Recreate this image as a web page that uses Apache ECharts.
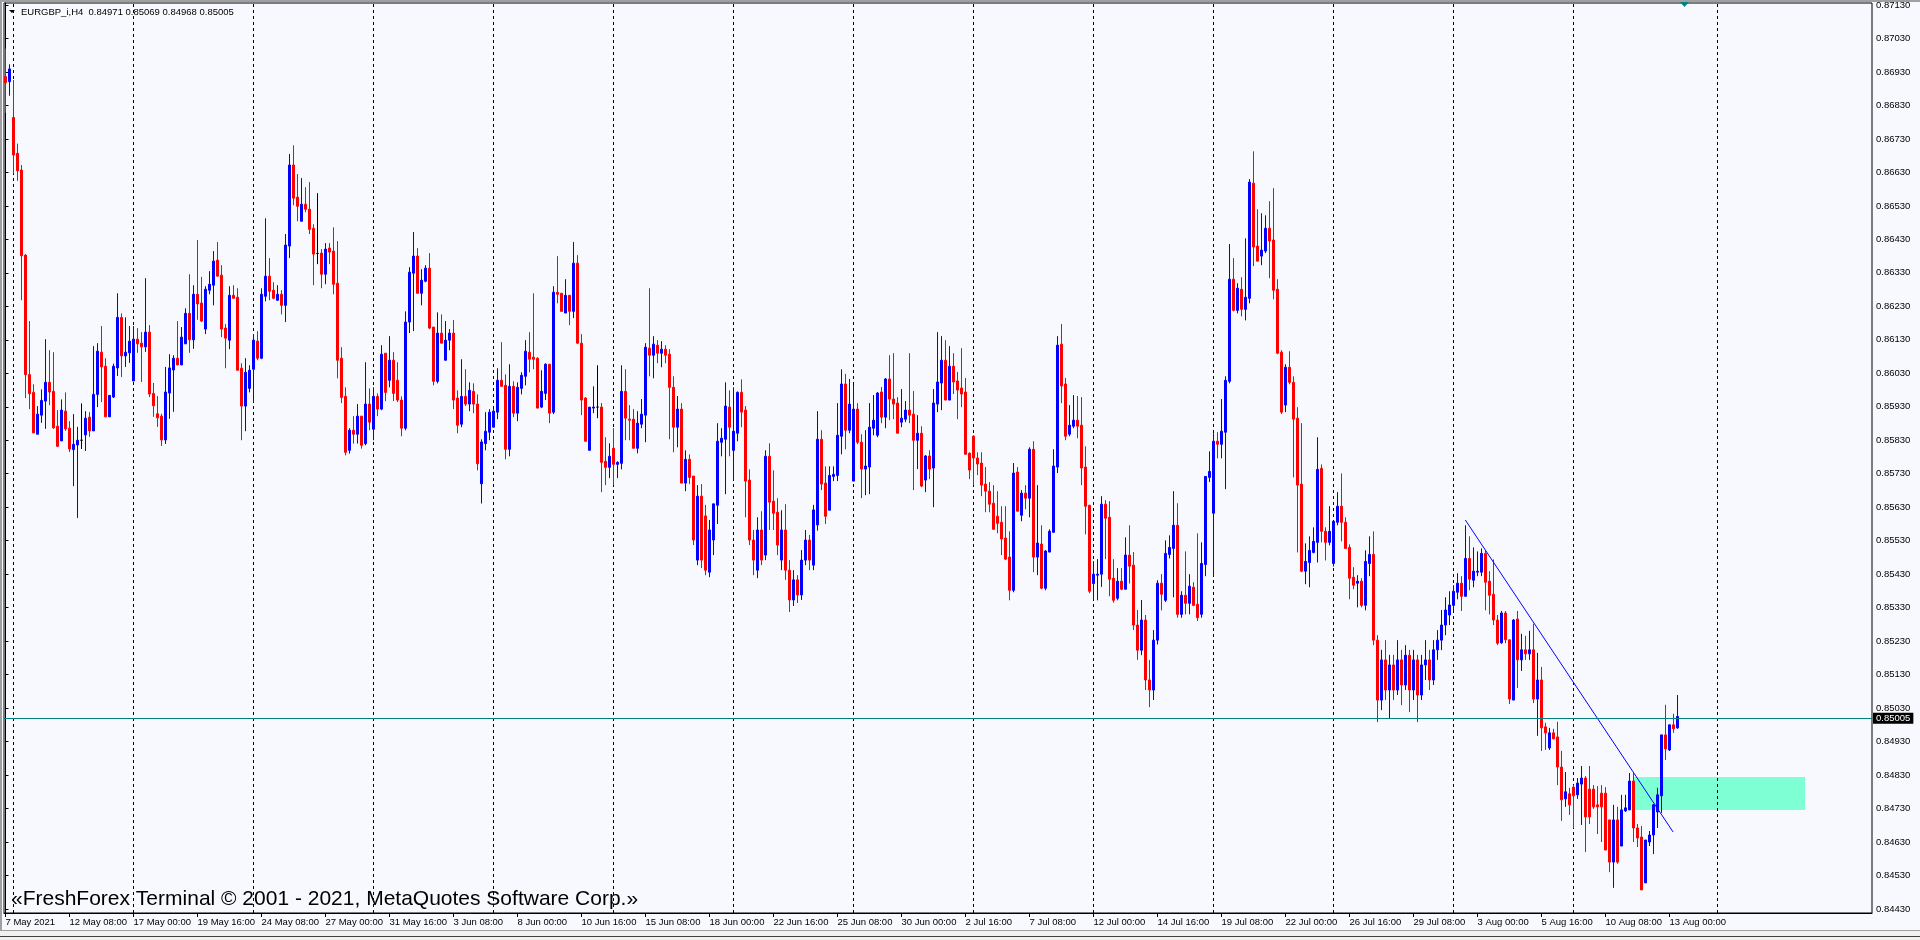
<!DOCTYPE html>
<html>
<head>
<meta charset="utf-8">
<title>EURGBP_i,H4</title>
<script src="https://cdn.jsdelivr.net/npm/echarts@6/dist/echarts.min.js"></script>
<style>
  html, body { margin: 0; padding: 0; background: #F8F8FF; }
  #chart { width: 1920px; height: 940px; }
</style>
</head>
<body>
<div id="chart"></div>
<script>
// H4 bars, oldest first (bar 0 = 7 May 2021 16:00)
const opens = [
  0.86916,0.86901,0.86794,0.86687,0.86637,0.86383,0.86026,0.85973,0.85848,0.85905, // 0
  0.85947,0.86003,0.85976,0.85872,0.85828,0.85917,0.85866,0.85802,0.85816,0.85830, // 10
  0.85846,0.85899,0.85858,0.85967,0.86093,0.86051,0.85900,0.85959,0.86046,0.86197, // 20
  0.86082,0.86091,0.86007,0.86132,0.86120,0.86109,0.86153,0.85970,0.85909,0.85902, // 30
  0.85831,0.85971,0.86040,0.86075,0.86055,0.86118,0.86209,0.86130,0.86266,0.86240, // 40
  0.86162,0.86278,0.86293,0.86368,0.86323,0.86165,0.86129,0.86263,0.86257,0.86045, // 50
  0.85932,0.85985,0.86042,0.86126,0.86075,0.86260,0.86320,0.86278,0.86248,0.86266, // 60
  0.86233,0.86410,0.86652,0.86556,0.86484,0.86535,0.86520,0.86463,0.86388,0.86389, // 70
  0.86326,0.86404,0.86395,0.86299,0.86075,0.85961,0.85800,0.85860,0.85848,0.85902, // 80
  0.85820,0.85938,0.85863,0.85961,0.85923,0.86090,0.86009,0.86069,0.86009,0.85950, // 90
  0.85866,0.86183,0.86329,0.86380,0.86269,0.86305,0.86344,0.86168,0.86006,0.86150, // 100
  0.86069,0.86129,0.86150,0.85956,0.85878,0.85961,0.85938,0.85976,0.85938,0.85700, // 110
  0.85820,0.85854,0.85869,0.85914,0.86009,0.85994,0.85803,0.85991,0.85911,0.85985, // 120
  0.86021,0.86093,0.86078,0.86075,0.85929,0.85970,0.86057,0.85914,0.86272,0.86269, // 130
  0.86210,0.86263,0.86215,0.86359,0.86120,0.85956,0.85800,0.85926,0.85929,0.85929, // 140
  0.85767,0.85749,0.85806,0.85758,0.85761,0.85976,0.85893,0.85893,0.85806,0.85878, // 150
  0.85905,0.86105,0.86084,0.86114,0.86090,0.86102,0.86087,0.85988,0.85869,0.85923, // 160
  0.85702,0.85773,0.85723,0.85472,0.85663,0.85604,0.85436,0.85532,0.85636,0.85824, // 170
  0.85833,0.85929,0.85800,0.85851,0.85973,0.85920,0.85711,0.85532,0.85442,0.85562, // 180
  0.85487,0.85782,0.85648,0.85615,0.85472,0.85562,0.85442,0.85353,0.85413,0.85368, // 190
  0.85472,0.85532,0.85457,0.85577,0.85833,0.85702,0.85621,0.85722,0.85725,0.85842, // 200
  0.85998,0.85860,0.85708,0.85923,0.85824,0.85744,0.85750,0.85866,0.85845,0.85974, // 210
  0.85899,0.86013,0.85953,0.85941,0.85884,0.85893,0.85920,0.85908,0.85830,0.85851, // 220
  0.85711,0.85783,0.85747,0.85938,0.86001,0.86069,0.85950,0.86051,0.86007,0.85986, // 230
  0.85974,0.85791,0.85842,0.85777,0.85762,0.85699,0.85678,0.85642,0.85603,0.85585, // 240
  0.85538,0.85481,0.85382,0.85735,0.85606,0.85672,0.85657,0.85803,0.85481,0.85520, // 250
  0.85388,0.85496,0.85555,0.85750,0.86117,0.85998,0.85848,0.85872,0.85890,0.85875, // 260
  0.85750,0.85636,0.85402,0.85427,0.85430,0.85639,0.85600,0.85418,0.85358,0.85409, // 270
  0.85385,0.85487,0.85457,0.85278,0.85203,0.85293,0.85114,0.85084,0.85233,0.85403, // 280
  0.85352,0.85489,0.85507,0.85576,0.85310,0.85367,0.85343,0.85391,0.85340,0.85310, // 290
  0.85459,0.85719,0.85612,0.85827,0.85818,0.85854,0.86006,0.86311,0.86218,0.86281, // 300
  0.86221,0.86254,0.86598,0.86410,0.86380,0.86395,0.86463,0.86428,0.86281,0.86093, // 310
  0.85935,0.86048,0.86003,0.85896,0.85699,0.85439,0.85465,0.85495,0.85525,0.85746, // 320
  0.85558,0.85525,0.85462,0.85585,0.85633,0.85585,0.85510,0.85421,0.85403,0.85409, // 330
  0.85337,0.85462,0.85489,0.85233,0.85054,0.85174,0.85084,0.85159,0.85084,0.85174, // 340
  0.85099,0.85188,0.85084,0.85174,0.85069,0.85159,0.85174,0.85114,0.85204,0.85233, // 350
  0.85278,0.85308,0.85337,0.85376,0.85403,0.85364,0.85477,0.85412,0.85436,0.85436, // 360
  0.85492,0.85409,0.85370,0.85293,0.85225,0.85314,0.85234,0.85054,0.85296,0.85174, // 370
  0.85204,0.85192,0.85204,0.85057,0.85114,0.84974,0.84911,0.84956,0.84944,0.84854, // 380
  0.84759,0.84774,0.84794,0.84771,0.84803,0.84821,0.84788,0.84788,0.84741,0.84776, // 390
  0.84776,0.84696,0.84570,0.84696,0.84618,0.84723,0.84726,0.84812,0.84672,0.84645, // 400
  0.84508,0.84630,0.84651,0.84720,0.84768,0.84950,0.84905,0.84980,0.84971          // 410
];
const highs = [
  0.87000,0.86953,0.86906,0.86716,0.86652,0.86386,0.86186,0.85997,0.85932,0.85982,
  0.86132,0.86099,0.86093,0.85920,0.85952,0.85973,0.85887,0.85908,0.85870,0.85940,
  0.85917,0.85914,0.86111,0.86120,0.86171,0.86075,0.85964,0.86059,0.86269,0.86209,
  0.86197,0.86171,0.86171,0.86165,0.86153,0.86314,0.86174,0.86001,0.85962,0.85909,
  0.86049,0.86087,0.86084,0.86186,0.86168,0.86224,0.86326,0.86293,0.86428,0.86318,
  0.86290,0.86335,0.86395,0.86422,0.86353,0.86177,0.86290,0.86293,0.86284,0.86060,
  0.86075,0.86054,0.86147,0.86156,0.86284,0.86493,0.86374,0.86302,0.86293,0.86278,
  0.86446,0.86685,0.86711,0.86625,0.86613,0.86586,0.86601,0.86475,0.86568,0.86401,
  0.86419,0.86419,0.86466,0.86425,0.86108,0.85988,0.85866,0.85902,0.85938,0.85902,
  0.86063,0.85985,0.85988,0.85970,0.86114,0.86090,0.86141,0.86093,0.86063,0.85961,
  0.86215,0.86347,0.86452,0.86404,0.86341,0.86353,0.86389,0.86168,0.86212,0.86206,
  0.86186,0.86162,0.86189,0.85979,0.86072,0.86042,0.86003,0.86000,0.85967,0.85833,
  0.85914,0.85923,0.85923,0.86045,0.86123,0.86027,0.86057,0.86006,0.86003,0.86033,
  0.86129,0.86153,0.86269,0.86078,0.86039,0.86060,0.86057,0.86290,0.86380,0.86269,
  0.86311,0.86263,0.86422,0.86383,0.86147,0.85959,0.85929,0.85991,0.86054,0.85941,
  0.85839,0.85821,0.85866,0.85767,0.86054,0.86042,0.85935,0.85923,0.85917,0.85953,
  0.86120,0.86284,0.86141,0.86129,0.86126,0.86114,0.86102,0.86021,0.85962,0.85941,
  0.85800,0.85788,0.85723,0.85696,0.85699,0.85637,0.85592,0.85640,0.85881,0.85866,
  0.86003,0.85979,0.85988,0.85976,0.86012,0.85932,0.85743,0.85562,0.85600,0.85618,
  0.85800,0.85821,0.85740,0.85657,0.85621,0.85639,0.85472,0.85442,0.85427,0.85502,
  0.85562,0.85547,0.85637,0.85917,0.85860,0.85752,0.85752,0.85752,0.85941,0.86042,
  0.86028,0.86013,0.85995,0.85941,0.85848,0.85860,0.85941,0.85965,0.85974,0.85989,
  0.86016,0.86084,0.86090,0.85959,0.85983,0.85947,0.86090,0.85977,0.85905,0.85872,
  0.85786,0.85800,0.85983,0.86153,0.86141,0.86129,0.86111,0.86090,0.86034,0.86105,
  0.86016,0.85794,0.85845,0.85794,0.85794,0.85750,0.85705,0.85696,0.85678,0.85633,
  0.85633,0.85558,0.85762,0.85750,0.85681,0.85696,0.85809,0.85827,0.85696,0.85576,
  0.85502,0.85564,0.85803,0.86141,0.86177,0.86016,0.85935,0.85965,0.85962,0.85959,
  0.85812,0.85636,0.85469,0.85475,0.85663,0.85651,0.85648,0.85475,0.85448,0.85448,
  0.85540,0.85576,0.85496,0.85323,0.85353,0.85308,0.85174,0.85263,0.85412,0.85430,
  0.85531,0.85546,0.85678,0.85642,0.85379,0.85498,0.85430,0.85406,0.85552,0.85525,
  0.85722,0.85797,0.85851,0.85854,0.85953,0.86021,0.86416,0.86374,0.86299,0.86317,
  0.86433,0.86610,0.86693,0.86520,0.86508,0.86502,0.86544,0.86583,0.86311,0.86099,
  0.86057,0.86096,0.86021,0.85929,0.85881,0.85522,0.85543,0.85570,0.85839,0.85758,
  0.85570,0.85633,0.85588,0.85675,0.85731,0.85600,0.85519,0.85451,0.85427,0.85418,
  0.85501,0.85543,0.85558,0.85248,0.85204,0.85233,0.85189,0.85189,0.85233,0.85204,
  0.85218,0.85204,0.85204,0.85189,0.85189,0.85233,0.85204,0.85233,0.85263,0.85323,
  0.85361,0.85379,0.85397,0.85433,0.85424,0.85576,0.85543,0.85510,0.85498,0.85507,
  0.85501,0.85439,0.85474,0.85308,0.85320,0.85320,0.85234,0.85296,0.85320,0.85252,
  0.85246,0.85261,0.85282,0.85195,0.85153,0.84986,0.84971,0.84968,0.84989,0.84902,
  0.84839,0.84792,0.84800,0.84821,0.84857,0.84827,0.84857,0.84800,0.84797,0.84800,
  0.84794,0.84696,0.84741,0.84735,0.84771,0.84771,0.84836,0.84836,0.84684,0.84678,
  0.84636,0.84663,0.84744,0.84792,0.84950,0.85040,0.84980,0.85013,0.85069
];
const lows = [
  0.86808,0.86859,0.86627,0.86605,0.86248,0.85956,0.85923,0.85852,0.85848,0.85882,
  0.85864,0.85935,0.85864,0.85810,0.85828,0.85858,0.85795,0.85693,0.85598,0.85804,
  0.85798,0.85840,0.85858,0.85929,0.85944,0.85900,0.85900,0.85956,0.86022,0.86019,
  0.86049,0.86061,0.86007,0.86091,0.86004,0.86094,0.85959,0.85900,0.85870,0.85813,
  0.85819,0.85894,0.85915,0.86055,0.86055,0.86118,0.86091,0.86103,0.86190,0.86183,
  0.86147,0.86266,0.86233,0.86320,0.86138,0.86045,0.86102,0.86254,0.86039,0.85830,
  0.85857,0.85973,0.85941,0.86069,0.86072,0.86245,0.86248,0.86251,0.86248,0.86206,
  0.86183,0.86374,0.86532,0.86484,0.86484,0.86511,0.86446,0.86293,0.86356,0.86284,
  0.86296,0.86356,0.86266,0.86015,0.85941,0.85785,0.85790,0.85820,0.85820,0.85805,
  0.85815,0.85860,0.85830,0.85902,0.85920,0.85947,0.85988,0.85947,0.85944,0.85842,
  0.85860,0.86150,0.86156,0.86269,0.86233,0.86302,0.86162,0.85994,0.86000,0.86120,
  0.86069,0.86099,0.85923,0.85851,0.85869,0.85932,0.85917,0.85911,0.85740,0.85641,
  0.85800,0.85830,0.85869,0.85893,0.85991,0.85773,0.85782,0.85899,0.85887,0.85967,
  0.85994,0.86033,0.86042,0.85926,0.85926,0.85950,0.85881,0.85908,0.86239,0.86215,
  0.86210,0.86174,0.86195,0.86117,0.85905,0.85827,0.85800,0.85911,0.85896,0.85675,
  0.85696,0.85717,0.85696,0.85717,0.85743,0.85830,0.85830,0.85806,0.85791,0.85866,
  0.85824,0.86021,0.86015,0.86060,0.86048,0.86060,0.85833,0.85794,0.85809,0.85702,
  0.85678,0.85699,0.85517,0.85457,0.85448,0.85427,0.85421,0.85487,0.85580,0.85782,
  0.85669,0.85782,0.85711,0.85827,0.85869,0.85600,0.85517,0.85427,0.85418,0.85457,
  0.85472,0.85562,0.85562,0.85487,0.85442,0.85413,0.85317,0.85335,0.85344,0.85353,
  0.85457,0.85442,0.85442,0.85560,0.85681,0.85580,0.85621,0.85708,0.85708,0.85788,
  0.85803,0.85851,0.85708,0.85818,0.85657,0.85666,0.85669,0.85845,0.85839,0.85881,
  0.85866,0.85890,0.85893,0.85851,0.85869,0.85884,0.85881,0.85681,0.85744,0.85690,
  0.85675,0.85714,0.85630,0.85914,0.85920,0.85950,0.85950,0.85968,0.85893,0.85929,
  0.85788,0.85714,0.85696,0.85726,0.85663,0.85615,0.85615,0.85564,0.85552,0.85487,
  0.85472,0.85352,0.85376,0.85618,0.85588,0.85624,0.85600,0.85436,0.85427,0.85385,
  0.85382,0.85496,0.85555,0.85732,0.85941,0.85830,0.85842,0.85866,0.85836,0.85696,
  0.85549,0.85373,0.85352,0.85352,0.85392,0.85475,0.85364,0.85345,0.85352,0.85382,
  0.85385,0.85402,0.85263,0.85174,0.85188,0.85084,0.85033,0.85054,0.85220,0.85322,
  0.85347,0.85477,0.85361,0.85300,0.85300,0.85310,0.85310,0.85334,0.85290,0.85300,
  0.85424,0.85705,0.85424,0.85776,0.85776,0.85684,0.86000,0.86215,0.86209,0.86200,
  0.86188,0.86239,0.86350,0.86365,0.86353,0.86389,0.86314,0.86251,0.86087,0.85908,
  0.85914,0.85997,0.85719,0.85495,0.85436,0.85400,0.85391,0.85492,0.85465,0.85525,
  0.85471,0.85516,0.85453,0.85576,0.85528,0.85507,0.85355,0.85385,0.85331,0.85331,
  0.85322,0.85424,0.85218,0.84988,0.85024,0.85054,0.85000,0.85054,0.85069,0.85039,
  0.85084,0.85018,0.85054,0.84988,0.85054,0.85114,0.85084,0.85099,0.85174,0.85203,
  0.85248,0.85278,0.85320,0.85355,0.85320,0.85364,0.85382,0.85391,0.85424,0.85424,
  0.85322,0.85310,0.85278,0.85218,0.85222,0.85224,0.85042,0.85054,0.85090,0.85141,
  0.85174,0.85174,0.85045,0.84947,0.84902,0.84905,0.84905,0.84938,0.84800,0.84693,
  0.84735,0.84711,0.84672,0.84759,0.84681,0.84600,0.84684,0.84729,0.84654,0.84630,
  0.84606,0.84540,0.84493,0.84565,0.84618,0.84720,0.84726,0.84630,0.84615,0.84487,
  0.84508,0.84618,0.84594,0.84672,0.84717,0.84875,0.84902,0.84956,0.84968
];
const closes = [
  0.86898,0.86939,0.86682,0.86635,0.86381,0.86026,0.85969,0.85852,0.85908,0.85949,
  0.86003,0.85974,0.85867,0.85812,0.85920,0.85864,0.85804,0.85818,0.85830,0.85830,
  0.85896,0.85858,0.85967,0.86096,0.86049,0.85900,0.85964,0.86051,0.86197,0.86082,
  0.86093,0.86126,0.86132,0.86118,0.86109,0.86153,0.85968,0.85933,0.85897,0.85831,
  0.85974,0.86046,0.86075,0.86055,0.86138,0.86209,0.86130,0.86266,0.86237,0.86186,
  0.86281,0.86296,0.86365,0.86320,0.86162,0.86135,0.86263,0.86254,0.86039,0.85932,
  0.86033,0.86039,0.86129,0.86075,0.86266,0.86320,0.86275,0.86254,0.86266,0.86233,
  0.86413,0.86652,0.86553,0.86529,0.86535,0.86520,0.86460,0.86386,0.86388,0.86326,
  0.86401,0.86392,0.86296,0.86069,0.85958,0.85794,0.85860,0.85848,0.85902,0.85815,
  0.85938,0.85884,0.85961,0.85923,0.86087,0.85973,0.86069,0.85970,0.85950,0.85866,
  0.86183,0.86332,0.86380,0.86269,0.86308,0.86344,0.86165,0.86006,0.86150,0.86120,
  0.86129,0.86150,0.85950,0.85875,0.85961,0.85938,0.85979,0.85938,0.85760,0.85825,
  0.85857,0.85914,0.85917,0.86009,0.85991,0.85803,0.85991,0.85911,0.85988,0.86024,
  0.86096,0.86072,0.86072,0.85926,0.85976,0.86057,0.85911,0.86272,0.86266,0.86215,
  0.86263,0.86215,0.86359,0.86120,0.85950,0.85827,0.85929,0.85929,0.85929,0.85764,
  0.85749,0.85782,0.85758,0.85764,0.85976,0.85896,0.85890,0.85806,0.85881,0.85908,
  0.86108,0.86084,0.86117,0.86090,0.86102,0.86084,0.85988,0.85869,0.85923,0.85702,
  0.85773,0.85719,0.85532,0.85663,0.85472,0.85442,0.85562,0.85640,0.85827,0.85836,
  0.85932,0.85869,0.85857,0.85973,0.85914,0.85708,0.85532,0.85472,0.85562,0.85472,
  0.85782,0.85645,0.85612,0.85517,0.85562,0.85442,0.85353,0.85413,0.85368,0.85472,
  0.85532,0.85472,0.85622,0.85833,0.85699,0.85603,0.85725,0.85728,0.85845,0.85998,
  0.85860,0.85938,0.85923,0.85824,0.85744,0.85753,0.85869,0.85890,0.85971,0.85899,
  0.86013,0.85953,0.85938,0.85851,0.85896,0.85920,0.85905,0.85830,0.85851,0.85693,
  0.85783,0.85744,0.85941,0.86004,0.86069,0.85950,0.86051,0.86004,0.85980,0.85968,
  0.85788,0.85741,0.85777,0.85759,0.85696,0.85678,0.85639,0.85564,0.85582,0.85535,
  0.85475,0.85382,0.85732,0.85618,0.85672,0.85657,0.85803,0.85481,0.85523,0.85388,
  0.85499,0.85558,0.85753,0.86114,0.85992,0.85842,0.85875,0.85890,0.85872,0.85747,
  0.85633,0.85379,0.85430,0.85430,0.85639,0.85597,0.85415,0.85352,0.85409,0.85385,
  0.85487,0.85454,0.85278,0.85203,0.85293,0.85114,0.85084,0.85233,0.85403,0.85370,
  0.85492,0.85510,0.85576,0.85310,0.85367,0.85343,0.85394,0.85337,0.85300,0.85462,
  0.85722,0.85737,0.85827,0.85818,0.85857,0.86009,0.86311,0.86218,0.86284,0.86221,
  0.86257,0.86601,0.86407,0.86365,0.86398,0.86463,0.86425,0.86278,0.86090,0.85914,
  0.86048,0.86003,0.85893,0.85696,0.85439,0.85468,0.85501,0.85528,0.85743,0.85558,
  0.85525,0.85558,0.85588,0.85633,0.85585,0.85507,0.85418,0.85397,0.85409,0.85337,
  0.85468,0.85489,0.85233,0.85054,0.85174,0.85084,0.85159,0.85084,0.85174,0.85099,
  0.85188,0.85084,0.85174,0.85069,0.85159,0.85174,0.85114,0.85204,0.85233,0.85278,
  0.85323,0.85338,0.85379,0.85403,0.85364,0.85477,0.85415,0.85439,0.85439,0.85492,
  0.85406,0.85367,0.85293,0.85224,0.85314,0.85234,0.85057,0.85293,0.85174,0.85204,
  0.85192,0.85204,0.85057,0.85114,0.84971,0.84956,0.84956,0.84938,0.84854,0.84756,
  0.84780,0.84741,0.84768,0.84806,0.84821,0.84705,0.84705,0.84735,0.84735,0.84735,
  0.84606,0.84570,0.84696,0.84570,0.84726,0.84732,0.84812,0.84672,0.84642,0.84487,
  0.84636,0.84651,0.84741,0.84771,0.84950,0.84908,0.84980,0.84968,0.85005
];

// one time label every 16 bars
const timeLabels = [
  '7 May 2021','12 May 08:00','17 May 00:00','19 May 16:00','24 May 08:00','27 May 00:00',
  '31 May 16:00','3 Jun 08:00','8 Jun 00:00','10 Jun 16:00','15 Jun 08:00','18 Jun 00:00',
  '22 Jun 16:00','25 Jun 08:00','30 Jun 00:00','2 Jul 16:00','7 Jul 08:00','12 Jul 00:00',
  '14 Jul 16:00','19 Jul 08:00','22 Jul 00:00','26 Jul 16:00','29 Jul 08:00','3 Aug 00:00',
  '5 Aug 16:00','10 Aug 08:00','13 Aug 00:00'
];
const priceLabels = [
  '0.84430','0.84530','0.84630','0.84730','0.84830','0.84930','0.85030','0.85130','0.85230',
  '0.85330','0.85430','0.85530','0.85630','0.85730','0.85830','0.85930','0.86030','0.86130',
  '0.86230','0.86330','0.86430','0.86530','0.86630','0.86730','0.86830','0.86930','0.87030','0.87130'
];

const symbolTitle = 'EURGBP_i,H4';
const lastBar = ['0.84971', '0.85069', '0.84968', '0.85005'];   // O H L C
const bidPrice = 0.85005;
const trendLine = [[364.95, 0.85592], [416.9, 0.84660]];        // [bar, price]
const zoneBox = [[406.95, 0.84824], [449.9, 0.84726]];          // corners [bar, price]
const copyright = '\u00abFreshForex Terminal \u00a9 2001 - 2021, MetaQuotes Software Corp.\u00bb';

// layout (pixels / bar positions of the terminal's dotted grid)
const FONT = '"Liberation Sans", Arial, sans-serif';
const gridCols = [2, 32, 62, 92, 122, 152, 182, 212, 242, 272, 302, 332, 362, 392, 428];

const candles = opens.map((o, i) => [i, o, closes[i], lows[i], highs[i]]);
const timeTicks = timeLabels.map((t, k) => k * 16);
const priceTicks = priceLabels.map(Number);

const chart = echarts.init(document.getElementById('chart'), null, { renderer: 'canvas' });

chart.setOption({
  animation: false,
  backgroundColor: '#F8F8FF',
  grid: {
    left: 4, right: 48, top: 3, bottom: 27,
    show: true, backgroundColor: '#F8F8FF', borderColor: '#000', borderWidth: 1
  },
  xAxis: {
    type: 'value',
    min: -0.375, max: 466.625,
    axisLine: { show: true, lineStyle: { color: '#000', width: 1 } },
    axisTick: { show: true, customValues: timeTicks, length: 4, lineStyle: { color: '#000' } },
    axisLabel: {
      customValues: timeTicks,
      formatter: v => timeLabels[Math.round(v / 16)] || '',
      align: 'left', margin: 4, color: '#000', fontFamily: FONT, fontSize: 9.5
    },
    splitLine: { show: false }
  },
  yAxis: {
    type: 'value',
    position: 'right',
    min: 0.84418, max: 0.87136,
    axisLine: { show: true, lineStyle: { color: '#000', width: 1 } },
    axisTick: { show: true, customValues: priceTicks, length: 3, lineStyle: { color: '#000' } },
    axisLabel: {
      customValues: priceTicks,
      formatter: v => v.toFixed(5),
      margin: 4, color: '#000', fontFamily: FONT, fontSize: 9.5
    },
    splitLine: { show: false }
  },
  series: [
    {
      // background layer: dotted grid + support zone
      type: 'line',
      data: [],
      z: 1,
      silent: true,
      markLine: {
        z: 1,
        silent: true,
        symbol: ['none', 'none'],
        label: { show: false },
        lineStyle: { color: '#000', width: 1, type: [3, 3] },
        data: gridCols.map(v => ({ xAxis: v }))
      },
      markArea: {
        z: 1,
        silent: true,
        itemStyle: { color: '#7FFFD4', opacity: 1 },
        data: [[{ coord: zoneBox[0] }, { coord: zoneBox[1] }]]
      }
    },
    {
      type: 'candlestick',
      data: candles,
      encode: { x: 0, y: [1, 2, 3, 4] },
      z: 3,
      barWidth: 2,
      itemStyle: {
        color: '#0000FF', color0: '#FF0000',
        borderColor: '#0000FF', borderColor0: '#FF0000',
        borderColorDoji: '#000000',
        borderWidth: 1
      },
      markLine: {
        z: 5,
        silent: true,
        symbol: ['none', 'none'],
        lineStyle: { color: '#008080', width: 1, type: 'solid' },
        label: {
          show: true, position: 'end', distance: 1,
          formatter: bidPrice.toFixed(5),
          backgroundColor: '#000', color: '#fff',
          padding: [1, 3, 0, 3], fontFamily: FONT, fontSize: 9.5
        },
        data: [{ yAxis: bidPrice }]
      }
    },
    {
      type: 'line',
      data: trendLine,
      z: 4,
      silent: true,
      showSymbol: false,
      symbol: 'none',
      lineStyle: { color: '#0000FF', width: 1 }
    }
  ],
  graphic: [
    { type: 'rect', shape: { x: 0, y: 0, width: 2, height: 940 }, style: { fill: '#A0A0A0' }, silent: true },
    { type: 'rect', shape: { x: 0, y: 0, width: 1920, height: 2 }, style: { fill: '#A0A0A0' }, silent: true },
    { type: 'polygon', shape: { points: [[9, 10], [15, 10], [12, 13]] }, style: { fill: '#000' }, silent: true },
    {
      type: 'text', x: 21, y: 7, silent: true,
      style: { text: symbolTitle + '  ' + lastBar.join(' '), font: '9.5px ' + FONT, fill: '#000' }
    },
    { type: 'polygon', shape: { points: [[1680, 2], [1689, 2], [1684.5, 7]] }, style: { fill: '#008080' }, silent: true },
    {
      type: 'text', x: 11, y: 889, silent: true,
      style: { text: copyright, font: '21px ' + FONT, fill: '#000' }
    },
    { type: 'rect', shape: { x: 0, y: 930, width: 1920, height: 10 }, style: { fill: '#F0F0F0' }, silent: true },
    { type: 'line', shape: { x1: 0, y1: 930.5, x2: 1920, y2: 930.5 }, style: { stroke: '#A0A0A0', lineWidth: 1 }, silent: true },
    { type: 'line', shape: { x1: 0, y1: 936.5, x2: 1920, y2: 936.5 }, style: { stroke: '#404040', lineWidth: 1 }, silent: true }
  ]
});

window.addEventListener('resize', function () {
  chart.resize();
});
</script>
</body>
</html>
